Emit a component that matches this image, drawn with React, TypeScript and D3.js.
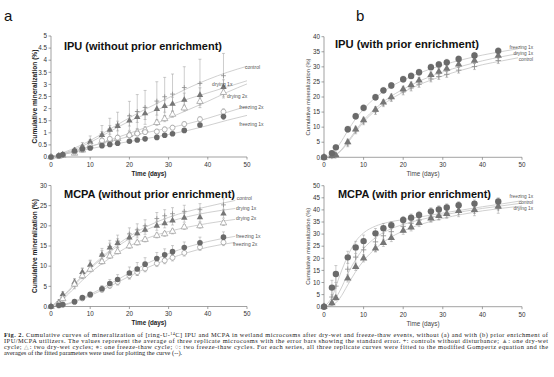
import React from 'react';
import * as d3 from 'd3';

// ---------- DATA ----------
const days = [0, 2, 3, 6, 8, 10, 13, 15, 17, 20, 22, 24, 27, 29, 31, 34, 38, 44];
const xTicks = [0, 10, 20, 30, 40, 50];

// IPU without prior enrichment
const ipuNoCtrl = [0, 0.05, 0.1, 0.3, 0.45, 0.65, 0.95, 1.15, 1.35, 1.7, 1.88, 2.05, 2.31, 2.49, 2.6, 2.87, 3.04, 3.36];
const ipuNoCtrlErr = [0, 0.02, 0.04, 0.08, 0.15, 0.22, 0.35, 0.45, 0.5, 0.6, 0.7, 0.7, 0.8, 0.8, 0.83, 0.86, 1.0, 0.92];
const ipuNoDry1 = [0, 0.05, 0.1, 0.27, 0.42, 0.62, 0.9, 1.12, 1.28, 1.5, 1.65, 1.8, 1.98, 2.1, 2.19, 2.36, 2.56, 2.89];
const ipuNoDry1Err = [0, 0.02, 0.03, 0.05, 0.08, 0.1, 0.15, 0.18, 0.2, 0.22, 0.22, 0.25, 0.25, 0.25, 0.28, 0.28, 0.3, 0.3];
const ipuNoDry2 = [0, 0.03, 0.06, 0.15, 0.28, 0.45, 0.65, 0.72, 0.76, 0.92, 1.02, 1.12, 1.42, 1.58, 1.76, 2.02, 2.29, 2.66];
const ipuNoDry2Err = [0, 0.02, 0.03, 0.05, 0.07, 0.08, 0.1, 0.1, 0.12, 0.12, 0.12, 0.12, 0.12, 0.12, 0.12, 0.12, 0.15, 0.15];
const ipuNoFrz1 = [0, 0.05, 0.1, 0.25, 0.33, 0.37, 0.47, 0.52, 0.57, 0.65, 0.7, 0.75, 0.81, 0.9, 0.96, 1.1, 1.32, 1.67];
const ipuNoFrz1Err = [0, 0.02, 0.02, 0.04, 0.05, 0.05, 0.05, 0.05, 0.06, 0.06, 0.06, 0.06, 0.06, 0.07, 0.07, 0.08, 0.08, 0.12];
const ipuNoFrz2 = [0, 0.04, 0.08, 0.2, 0.3, 0.45, 0.68, 0.75, 0.8, 0.9, 0.97, 1.03, 1.05, 1.14, 1.21, 1.36, 1.56, 1.87];
const ipuNoFrz2Err = [0, 0.02, 0.02, 0.04, 0.05, 0.06, 0.07, 0.08, 0.1, 0.1, 0.1, 0.1, 0.1, 0.1, 0.1, 0.1, 0.1, 0.12];
const ipuNoFitDays = [0, 5, 10, 15, 20, 25, 30, 35, 40, 45, 50];
const ipuNoCtrlFit = [0, 0.3, 0.68, 1.15, 1.62, 2.05, 2.45, 2.85, 3.2, 3.5, 3.75];
const ipuNoDry1Fit = [0, 0.25, 0.6, 1.05, 1.48, 1.82, 2.13, 2.4, 2.65, 2.9, 3.15];
const ipuNoDry2Fit = [0, 0.18, 0.42, 0.7, 0.98, 1.27, 1.6, 1.95, 2.3, 2.68, 3.02];
const ipuNoFrz2Fit = [0, 0.22, 0.45, 0.65, 0.85, 1.03, 1.2, 1.38, 1.6, 1.85, 2.1];
const ipuNoFrz1Fit = [0, 0.17, 0.34, 0.5, 0.64, 0.78, 0.93, 1.1, 1.3, 1.52, 1.72];

// MCPA without prior enrichment
const mcpaNoCtrl = [0, 1.2, 2.2, 5.6, 8.2, 10.2, 13.0, 14.9, 16.2, 18.0, 19.0, 20.0, 21.8, 22.5, 23.0, 23.6, 24.0, 25.2];
const mcpaNoCtrlErr = [0, 0.5, 0.8, 1.2, 1.3, 1.3, 1.4, 1.5, 1.5, 1.5, 1.5, 1.5, 1.5, 1.5, 1.5, 1.5, 1.5, 1.5];
const mcpaNoDry1 = [0, 0.95, 3.0, 6.0, 8.5, 10.3, 12.8, 14.6, 15.7, 17.1, 18.1, 19.0, 20.0, 20.6, 21.3, 22.0, 22.1, 23.0];
const mcpaNoDry1Err = [0, 0.4, 0.7, 0.9, 1.0, 1.0, 1.1, 1.1, 1.1, 1.1, 1.1, 1.1, 1.1, 1.1, 1.1, 1.1, 1.1, 1.1];
const mcpaNoDry2 = [0, 0.7, 1.9, 5.5, 7.6, 9.2, 11.1, 12.5, 13.6, 15.0, 15.8, 16.6, 17.6, 18.0, 18.6, 19.7, 20.0, 20.7];
const mcpaNoDry2Err = [0, 0.3, 0.4, 0.6, 0.6, 0.6, 0.6, 0.6, 0.6, 0.6, 0.6, 0.6, 0.6, 0.6, 0.6, 0.6, 0.6, 0.6];
const mcpaNoFrz1 = [0, 0.3, 0.5, 1.2, 2.2, 3.0, 4.4, 5.7, 6.7, 8.3, 9.3, 10.5, 11.9, 12.8, 13.6, 14.6, 15.8, 17.2];
const mcpaNoFrz1Err = [0, 0.1, 0.2, 0.3, 0.4, 0.5, 0.8, 1.0, 1.2, 1.5, 1.6, 1.6, 1.5, 1.5, 1.5, 1.4, 1.4, 1.3];
const mcpaNoFrz2 = [0, 0.2, 0.4, 1.1, 2.0, 2.8, 4.2, 5.2, 6.1, 7.7, 8.5, 9.4, 10.7, 11.4, 12.1, 13.3, 14.7, 15.9];
const mcpaNoFrz2Err = [0, 0.1, 0.2, 0.3, 0.4, 0.5, 0.6, 0.7, 0.8, 0.8, 0.8, 0.8, 0.8, 0.8, 0.8, 0.8, 0.8, 0.8];
const mcpaNoFitDays = [0, 3, 6, 10, 15, 20, 25, 30, 35, 40, 47];
const mcpaNoCtrlFit = [0, 2.5, 5.6, 9.6, 13.9, 17.4, 20.1, 22.1, 23.6, 24.8, 26.3];
const mcpaNoDry1Fit = [0, 2.2, 5.3, 9.3, 13.5, 16.8, 19.3, 21.0, 22.3, 23.3, 24.3];
const mcpaNoDry2Fit = [0, 1.8, 4.6, 8.3, 12.0, 15.0, 17.1, 18.6, 19.7, 20.6, 21.6];
const mcpaNoFrz1Fit = [0, 0.4, 1.3, 3.0, 5.6, 8.3, 10.9, 13.1, 14.8, 16.1, 17.4];
const mcpaNoFrz2Fit = [0, 0.3, 1.1, 2.7, 5.0, 7.5, 9.8, 11.8, 13.4, 14.7, 15.9];

// IPU with prior enrichment
const ipuWFrz1 = [0, 1.4, 3.3, 9.3, 13.6, 16.4, 19.9, 22.2, 23.8, 25.9, 27.0, 28.2, 29.9, 30.8, 31.5, 32.6, 33.8, 35.3];
const ipuWFrz1Err = [0, 0.5, 0.8, 1, 1, 1, 1, 1, 1, 1, 1, 1, 1, 1, 1, 1, 1, 1];
const ipuWDry1 = [0, 0.4, 0.7, 5.0, 9.3, 12.3, 15.8, 18.2, 20.0, 22.6, 24.0, 25.5, 27.3, 28.4, 29.4, 30.8, 32.1, 33.7];
const ipuWDry1Err = [0, 0.3, 0.4, 1, 1, 1, 1, 1, 1, 1, 1, 1, 1, 1, 1, 1, 1, 1];
const ipuWCtrl = [0, 0.3, 0.5, 4.5, 8.8, 11.8, 15.2, 17.8, 19.5, 21.7, 23.0, 24.2, 26.0, 26.8, 27.5, 28.9, 30.1, 32.1];
const ipuWCtrlErr = [0, 0.3, 0.4, 1, 1, 1, 1, 1, 1, 1, 1, 1, 1, 1, 1, 1, 1, 1];
const ipuWFitDays = [0, 2, 4, 6, 8, 10, 13, 16, 20, 25, 30, 35, 40, 45, 49];
const ipuWFrz1Fit = [0, 1.2, 4.5, 8.8, 12.8, 16.0, 19.8, 22.7, 25.6, 28.4, 30.6, 32.4, 33.9, 35.1, 36.0];
const ipuWDry1Fit = [0, 0.4, 2.0, 5.2, 8.9, 12.3, 16.2, 19.4, 22.6, 25.8, 28.3, 30.3, 32.0, 33.4, 34.4];
const ipuWCtrlFit = [0, 0.3, 1.8, 4.8, 8.4, 11.7, 15.5, 18.5, 21.6, 24.6, 27.0, 29.0, 30.7, 32.0, 33.0];

// MCPA with prior enrichment
const mcpaWFrz1 = [0, 7.9, 13.5, 20.4, 24.5, 27.1, 30.3, 32.4, 33.7, 35.8, 36.8, 37.9, 39.4, 40.2, 41.0, 41.9, 42.6, 43.5];
const mcpaWFrz1Err = [0, 3.0, 3.5, 2.5, 2.5, 2.5, 2.0, 2.0, 1.5, 1.5, 1.5, 1.5, 1.5, 1.5, 1.5, 1.5, 1.5, 1.5];
const mcpaWDry1 = [0, 1.5, 3.6, 11.7, 16.5, 20.0, 24.1, 26.4, 28.4, 31.4, 32.8, 34.6, 36.5, 37.5, 38.4, 39.6, 40.0, 41.5];
const mcpaWDry1Err = [0, 0.5, 1, 1.5, 1.5, 1.5, 1.5, 1.5, 1.5, 1.5, 1.5, 1.5, 1.5, 1.5, 1.5, 1.5, 1.5, 1.5];
const mcpaWCtrl = [0, 4.0, 8.5, 15.5, 20.5, 23.5, 26.8, 29.3, 31.0, 33.2, 34.5, 35.8, 37.0, 37.8, 38.5, 39.2, 39.6, 40.6];
const mcpaWCtrlErr = [0, 3.5, 5, 4, 4, 4, 4, 3.5, 3, 2.5, 2.5, 2, 2, 2, 2, 2, 2, 2];
const mcpaWFitDays = [0, 2, 4, 6, 8, 10, 13, 16, 20, 25, 30, 35, 40, 45, 50];
const mcpaWFrz1Fit = [0, 4, 13, 21, 27, 30.5, 33.3, 34.8, 36.0, 37.3, 38.7, 40.0, 41.3, 42.5, 43.8];
const mcpaWCtrlFit = [0, 1.5, 6.5, 13.5, 19.5, 24.0, 28.5, 31.5, 34.0, 36.2, 37.9, 39.3, 40.6, 41.7, 42.8];
const mcpaWDry1Fit = [0, 0.5, 3.5, 9.0, 14.5, 19.0, 24.0, 27.8, 31.3, 34.3, 36.5, 38.2, 39.6, 40.7, 41.6];

// ---------- RENDERING ----------
type Marker = 'plus' | 'triF' | 'triO' | 'circF' | 'circO';

interface Series {
  name: string;
  values: number[];
  errors: number[];
  fit: number[];
  marker: Marker;
  label: [number, number];
}

interface PanelCfg {
  x0: number; x1: number; yb: number; yt: number;
  yMax: number; yStep: number;
  title: string; titleX: number; titleY: number; titleLen: number;
  bold: boolean;
  fitDays: number[];
  series: Series[];
  labelAnchor: 'start' | 'end';
  labelSize: number;
  msize: number;
}

function Shape({ m, x, y, s }: { m: Marker; x: number; y: number; s: number }) {
  if (m === 'plus') {
    const h = s * 0.85;
    return (
      <g stroke="#8c8c8c" strokeWidth={0.8}>
        <line x1={x - h} x2={x + h} y1={y} y2={y} />
        <line x1={x} x2={x} y1={y - h} y2={y + h} />
      </g>
    );
  }
  if (m === 'circF') return <circle cx={x} cy={y} r={s} fill="#6a6a6a" />;
  if (m === 'circO') return <circle cx={x} cy={y} r={s - 0.3} fill="#fff" stroke="#9a9a9a" strokeWidth={0.7} />;
  const a = s * 2.3;
  const pts = `${x},${y - a * 0.577} ${x - a / 2},${y + a * 0.289} ${x + a / 2},${y + a * 0.289}`;
  if (m === 'triF') return <polygon points={pts} fill="#767676" />;
  return <polygon points={pts} fill="#fff" stroke="#9a9a9a" strokeWidth={0.7} />;
}

function Panel({ c }: { c: PanelCfg }) {
  const xs = d3.scaleLinear().domain([0, 50]).range([c.x0, c.x1]);
  const ys = d3.scaleLinear().domain([0, c.yMax]).range([c.yb, c.yt]);
  const yTicks = d3.range(0, c.yMax + c.yStep / 2, c.yStep);
  const line = d3.line<number>()
    .x((_, i) => xs(c.fitDays[i]))
    .y((d) => ys(d))
    .curve(d3.curveMonotoneX);
  const axisColor = '#7a7a7a';
  const font = 'Liberation Sans, Arial, sans-serif';
  const tickCol = '#333';
  return (
    <g fontFamily={font}>
      {c.series.map((s) => (
        <path key={'f' + s.name} d={line(s.fit) || ''} fill="none" stroke="#c4c4c4" strokeWidth={0.8} />
      ))}
      <line x1={c.x0} x2={c.x0} y1={c.yt} y2={c.yb} stroke={axisColor} strokeWidth={0.7} />
      <line x1={c.x0} x2={c.x1} y1={c.yb} y2={c.yb} stroke={axisColor} strokeWidth={0.7} />
      {yTicks.map((t) => (
        <g key={'yt' + t}>
          <line x1={c.x0 - 2.5} x2={c.x0} y1={ys(t)} y2={ys(t)} stroke={axisColor} strokeWidth={0.7} />
          <text x={c.x0 - 4} y={ys(t) + 2.2} fontSize={6.3} textAnchor="end" fill={tickCol}>{String(t)}</text>
        </g>
      ))}
      {xTicks.map((t) => (
        <g key={'xt' + t}>
          <line x1={xs(t)} x2={xs(t)} y1={c.yb} y2={c.yb + 2.5} stroke={axisColor} strokeWidth={0.7} />
          <text x={xs(t)} y={c.yb + 9.8} fontSize={6.3} textAnchor="middle" fill={tickCol}>{String(t)}</text>
        </g>
      ))}
      <text x={(c.x0 + c.x1) / 2} y={c.yb + 18.8} fontSize={6.3} textAnchor="middle"
        fontWeight={c.bold ? 'bold' : 'normal'} fill={c.bold ? '#222' : '#444'}>Time (days)</text>
      <text transform={`translate(${c.x0 - 14},${(c.yt + c.yb) / 2}) rotate(-90)`} fontSize={c.bold ? 6.6 : 5.8}
        textAnchor="middle" fontWeight={c.bold ? 'bold' : 'normal'} fill={c.bold ? '#222' : '#444'}>
        Cumulative mineralization (%)
      </text>
      <text x={c.titleX} y={c.titleY} fontSize={11} fontWeight="bold" fill="#111"
        textLength={c.titleLen} lengthAdjust="spacingAndGlyphs">{c.title}</text>
      {c.series.map((s) => (
        <g key={'e' + s.name} stroke="#9a9a9a" strokeWidth={0.5}>
          {days.map((d, i) => s.errors[i] > 0 ? (
            <g key={i}>
              <line x1={xs(d)} x2={xs(d)} y1={ys(s.values[i] - s.errors[i])} y2={ys(s.values[i] + s.errors[i])} />
              <line x1={xs(d) - 1.5} x2={xs(d) + 1.5} y1={ys(s.values[i] + s.errors[i])} y2={ys(s.values[i] + s.errors[i])} />
              <line x1={xs(d) - 1.5} x2={xs(d) + 1.5} y1={ys(s.values[i] - s.errors[i])} y2={ys(s.values[i] - s.errors[i])} />
            </g>
          ) : null)}
        </g>
      ))}
      {c.series.map((s) => (
        <g key={'m' + s.name}>
          {days.map((d, i) => (
            <Shape key={i} m={s.marker} x={xs(d)} y={ys(s.values[i])} s={c.msize} />
          ))}
        </g>
      ))}
      {c.series.map((s) => (
        <text key={'l' + s.name} x={xs(s.label[0])} y={ys(s.label[1]) + 1.6} fontSize={c.labelSize}
          textAnchor={c.labelAnchor} fill="#555">{s.name}</text>
      ))}
    </g>
  );
}

const panels: PanelCfg[] = [
  {
    x0: 51, x1: 247, yb: 157, yt: 36, yMax: 5, yStep: 0.5,
    title: 'IPU (without prior enrichment)', titleX: 64, titleY: 49.5, titleLen: 158, bold: true,
    fitDays: ipuNoFitDays, labelAnchor: 'start', labelSize: 5, msize: 2.8,
    series: [
      { name: 'control', values: ipuNoCtrl, errors: ipuNoCtrlErr, fit: ipuNoCtrlFit, marker: 'plus', label: [49.5, 3.72] },
      { name: 'drying 1x', values: ipuNoDry1, errors: ipuNoDry1Err, fit: ipuNoDry1Fit, marker: 'triF', label: [41.1, 2.98] },
      { name: 'drying 2x', values: ipuNoDry2, errors: ipuNoDry2Err, fit: ipuNoDry2Fit, marker: 'triO', label: [44.9, 2.52] },
      { name: 'freezing 2x', values: ipuNoFrz2, errors: ipuNoFrz2Err, fit: ipuNoFrz2Fit, marker: 'circO', label: [48, 2.07] },
      { name: 'freezing 1x', values: ipuNoFrz1, errors: ipuNoFrz1Err, fit: ipuNoFrz1Fit, marker: 'circF', label: [48, 1.36] },
    ],
  },
  {
    x0: 51, x1: 247, yb: 306.5, yt: 185.5, yMax: 30, yStep: 5,
    title: 'MCPA (without prior enrichment)', titleX: 64, titleY: 198, titleLen: 171, bold: true,
    fitDays: mcpaNoFitDays, labelAnchor: 'start', labelSize: 5, msize: 2.8,
    series: [
      { name: 'control', values: mcpaNoCtrl, errors: mcpaNoCtrlErr, fit: mcpaNoCtrlFit, marker: 'plus', label: [47.4, 26.7] },
      { name: 'drying 1x', values: mcpaNoDry1, errors: mcpaNoDry1Err, fit: mcpaNoDry1Fit, marker: 'triF', label: [47.2, 24.2] },
      { name: 'drying 2x', values: mcpaNoDry2, errors: mcpaNoDry2Err, fit: mcpaNoDry2Fit, marker: 'triO', label: [47.2, 21.9] },
      { name: 'freezing 2x', values: mcpaNoFrz2, errors: mcpaNoFrz2Err, fit: mcpaNoFrz2Fit, marker: 'circO', label: [46.4, 15.5] },
      { name: 'freezing 1x', values: mcpaNoFrz1, errors: mcpaNoFrz1Err, fit: mcpaNoFrz1Fit, marker: 'circF', label: [47.2, 17.5] },
    ],
  },
  {
    x0: 324, x1: 522, yb: 157.3, yt: 36.7, yMax: 40, yStep: 5,
    title: 'IPU (with prior enrichment)', titleX: 335, titleY: 48, titleLen: 144, bold: false,
    fitDays: ipuWFitDays, labelAnchor: 'end', labelSize: 4.8, msize: 3.2,
    series: [
      { name: 'control', values: ipuWCtrl, errors: ipuWCtrlErr, fit: ipuWCtrlFit, marker: 'plus', label: [52.8, 32.6] },
      { name: 'drying 1x', values: ipuWDry1, errors: ipuWDry1Err, fit: ipuWDry1Fit, marker: 'triF', label: [52.8, 34.6] },
      { name: 'freezing 1x', values: ipuWFrz1, errors: ipuWFrz1Err, fit: ipuWFrz1Fit, marker: 'circF', label: [52.8, 36.6] },
    ],
  },
  {
    x0: 324, x1: 522, yb: 306.7, yt: 185.7, yMax: 50, yStep: 5,
    title: 'MCPA (with prior enrichment)', titleX: 338, titleY: 198, titleLen: 153, bold: false,
    fitDays: mcpaWFitDays, labelAnchor: 'end', labelSize: 4.8, msize: 3.2,
    series: [
      { name: 'control', values: mcpaWCtrl, errors: mcpaWCtrlErr, fit: mcpaWCtrlFit, marker: 'plus', label: [52.8, 43.2] },
      { name: 'drying 1x', values: mcpaWDry1, errors: mcpaWDry1Err, fit: mcpaWDry1Fit, marker: 'triF', label: [52.8, 40.8] },
      { name: 'freezing 1x', values: mcpaWFrz1, errors: mcpaWFrz1Err, fit: mcpaWFrz1Fit, marker: 'circF', label: [52.8, 45.7] },
    ],
  },
];

const capFont = 'Liberation Serif, Times New Roman, serif';

export default function App() {
  return (
    <svg width={554} height={377} viewBox="0 0 554 377"
      style={{ position: 'absolute', left: 0, top: 0, background: '#fff' }}>
      <rect width={554} height={377} fill="#fff" />
      <text x={4} y={20.5} fontSize={15} fontFamily="Liberation Sans, Arial, sans-serif" fill="#111">a</text>
      <text x={356} y={20.5} fontSize={15} fontFamily="Liberation Sans, Arial, sans-serif" fill="#111">b</text>
      {panels.map((p, i) => <Panel key={i} c={p} />)}
      <g fontFamily={capFont} fontSize={6.4} fill="#1a1a1a">
        <text x={4} y={337.2} textLength={544} lengthAdjust="spacing">
          <tspan fontWeight="bold">Fig. 2.</tspan>
          {'  Cumulative curves of mineralization of [ring-U-'}
          <tspan fontSize={4.2} dy={-2.2}>14</tspan>
          <tspan dy={2.2}>{'C] IPU and MCPA in wetland microcosms after dry-wet and freeze-thaw events, without (a) and with (b) prior enrichment of'}</tspan>
        </text>
        <text x={4} y={343.2} textLength={544} lengthAdjust="spacing">
          {'IPU/MCPA utilizers. The values represent the average of three replicate microcosms with the error bars showing the standard error. +: controls without disturbance; '}
          <tspan fill="#888">▲</tspan>
          {': one dry-wet'}
        </text>
        <text x={4} y={349.2} textLength={544} lengthAdjust="spacing">
          {'cycle; '}
          <tspan fill="#888">△</tspan>
          {': two dry-wet cycles; '}
          <tspan fill="#888">●</tspan>
          {': one freeze-thaw cycle; '}
          <tspan fill="#888">○</tspan>
          {': two freeze-thaw cycles. For each series, all three replicate curves were fitted to the modified Gompertz equation and the'}
        </text>
        <text x={4} y={355.2}>
          {'averages of the fitted parameters were used for plotting the curve (--).'}
        </text>
      </g>
    </svg>
  );
}
